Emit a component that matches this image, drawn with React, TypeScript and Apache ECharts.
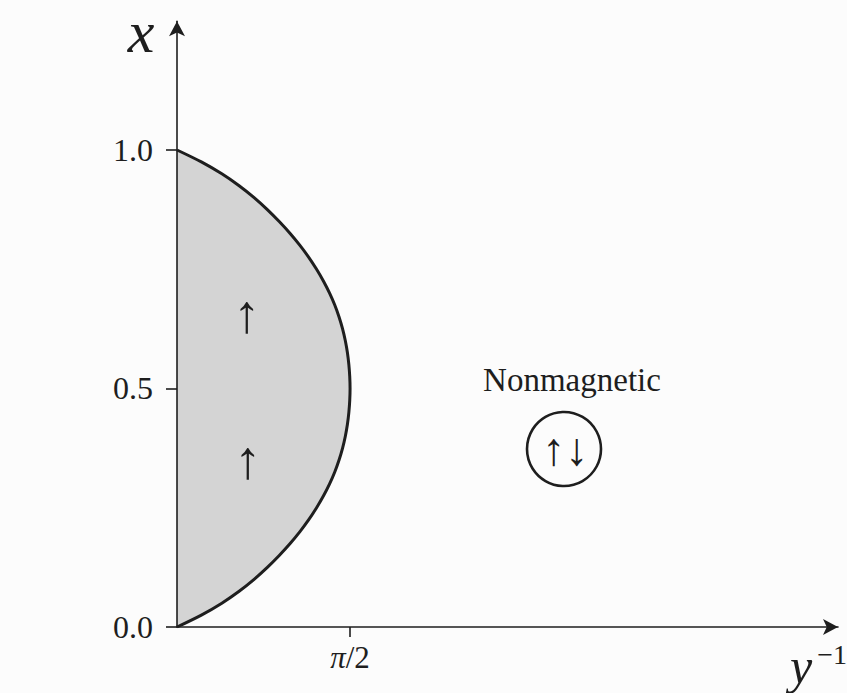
import React, { useEffect, useRef } from "react";
import * as echarts from "echarts";

// Phase boundary: x (vertical) against y^{-1} (horizontal)
const boundaryX = [
  0, 0.025, 0.05, 0.075, 0.1, 0.125, 0.15, 0.175, 0.2, 0.225, 0.25, 0.275, 0.3, 0.325, 0.35, 0.375,
  0.4, 0.425, 0.45, 0.475, 0.5, 0.525, 0.55, 0.575, 0.6, 0.625, 0.65, 0.675, 0.7, 0.725, 0.75,
  0.775, 0.8, 0.825, 0.85, 0.875, 0.9, 0.925, 0.95, 0.975, 1.0,
];
const boundaryInvY = [
  0, 0.221, 0.407, 0.564, 0.7, 0.82, 0.928, 1.027, 1.116, 1.196, 1.267, 1.33, 1.385, 1.432, 1.471,
  1.503, 1.528, 1.547, 1.56, 1.568, 1.571, 1.568, 1.56, 1.547, 1.528, 1.503, 1.471, 1.432, 1.385,
  1.33, 1.267, 1.196, 1.116, 1.027, 0.928, 0.82, 0.7, 0.564, 0.407, 0.221, 0,
];

const xTickValues = [0, 0.5, 1.0];
const xTickLabels = ["0.0", "0.5", "1.0"];
const invYTickValues = [Math.PI / 2];
const invYTickLabels = ["{pi|π}/2"];

const SERIF = "Liberation Serif";
const INK = "#1e1e1e";

function label(text: string, x: number, y: number, size: number, opts: any = {}) {
  return {
    type: "text",
    z: 100,
    style: {
      text,
      x,
      y,
      fontFamily: SERIF,
      fontSize: size,
      fontStyle: opts.italic ? "italic" : "normal",
      fill: INK,
      align: opts.align || "center",
      verticalAlign: "middle",
    },
  };
}

export default function App() {
  const ref = useRef<HTMLDivElement>(null);

  useEffect(() => {
    if (!ref.current) return;
    const chart = echarts.init(ref.current, undefined, { renderer: "svg" });

    const points = boundaryX.map((x, i) => [boundaryInvY[i], x]);
    const axisLineStyle = { color: INK, width: 1.6 };

    chart.setOption({
      animation: false,
      backgroundColor: "#fcfcfc",
      grid: { left: 177, right: 9, top: 21.2, bottom: 66, containLabel: false },
      xAxis: {
        type: "value",
        min: 0,
        max: 6,
        z: 5,
        axisLine: {
          show: true,
          onZero: false,
          symbol: ["none", "arrow"],
          symbolSize: [12, 15],
          lineStyle: axisLineStyle,
        },
        axisTick: { show: true, length: 10, customValues: invYTickValues, lineStyle: axisLineStyle },
        axisLabel: {
          customValues: invYTickValues,
          formatter: (v: number) => {
            const i = invYTickValues.findIndex((t) => Math.abs(t - v) < 1e-6);
            return i >= 0 ? invYTickLabels[i] : "";
          },
          margin: 15,
          fontSize: 31,
          fontFamily: SERIF,
          color: INK,
          rich: {
            pi: { fontSize: 31, fontFamily: SERIF, fontStyle: "italic", color: INK },
          },
        },
        splitLine: { show: false },
      },
      yAxis: {
        type: "value",
        min: 0,
        max: 1.27,
        z: 5,
        axisLine: {
          show: true,
          onZero: false,
          symbol: ["none", "arrow"],
          symbolSize: [12, 15],
          lineStyle: axisLineStyle,
        },
        axisTick: { show: true, length: 11, customValues: xTickValues, lineStyle: axisLineStyle },
        axisLabel: {
          customValues: xTickValues,
          formatter: (v: number) => {
            const i = xTickValues.findIndex((t) => Math.abs(t - v) < 1e-6);
            return i >= 0 ? xTickLabels[i] : "";
          },
          margin: 24,
          fontSize: 32,
          fontFamily: SERIF,
          color: INK,
        },
        splitLine: { show: false },
      },
      series: [
        {
          // shaded magnetic region between the x axis and the boundary
          type: "custom",
          z: 1,
          data: [[0, 0]],
          renderItem: (_params: any, api: any) => {
            const pts = points.map((p) => api.coord(p));
            return {
              type: "polygon",
              shape: { points: pts, smooth: 0 },
              style: { fill: "#d4d4d4", stroke: "none" },
            };
          },
        },
        {
          type: "line",
          z: 3,
          data: points,
          smooth: 0.3,
          symbol: "none",
          lineStyle: { color: INK, width: 3 },
        },
      ],
      graphic: [
        label("x", 141, 32, 60, { italic: true }),
        label("y", 801, 666, 50, { italic: true }),
        label("−1", 847, 654, 28, { align: "right" }),
        label("↑", 247, 314, 54),
        label("↑", 248, 460, 54),
        label("Nonmagnetic", 572, 380, 33),
        {
          type: "circle",
          z: 100,
          shape: { cx: 564, cy: 449, r: 37 },
          style: { fill: "none", stroke: INK, lineWidth: 2.6 },
        },
        label("↑↓", 565, 449, 46),
      ],
    });

    return () => chart.dispose();
  }, []);

  return (
    <div
      ref={ref}
      style={{ position: "fixed", left: 0, top: 0, width: 847, height: 693 }}
    />
  );
}
